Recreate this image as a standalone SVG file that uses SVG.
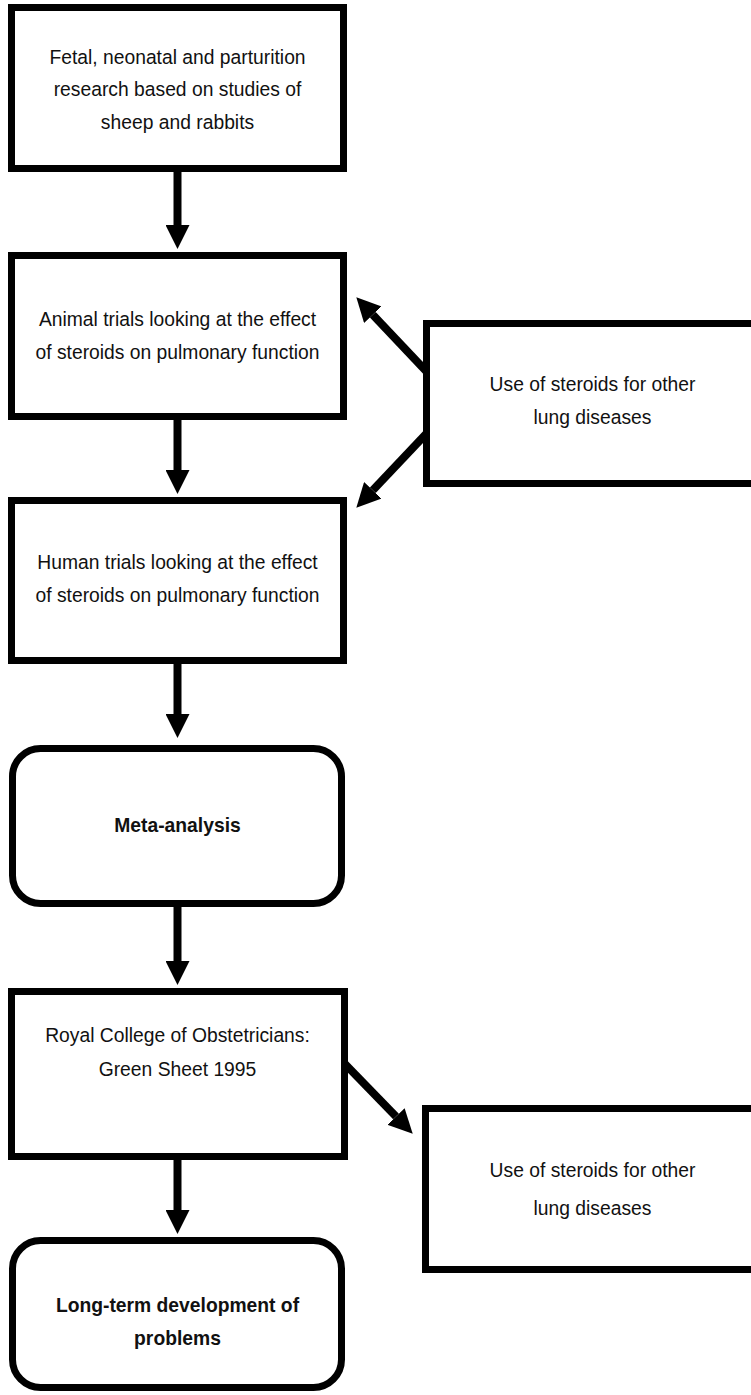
<svg xmlns="http://www.w3.org/2000/svg" width="751" height="1395" viewBox="0 0 751 1395">
<style>
.box{fill:#fff;stroke:#000;stroke-width:7}
.t{font-family:"Liberation Sans",Arial,sans-serif;font-size:19.3px;fill:#111;text-anchor:middle}
.b{font-weight:bold}
.c{stroke:#000;stroke-width:8;fill:none}
</style>
<defs>
<marker id="ah" markerUnits="userSpaceOnUse" markerWidth="24" markerHeight="24" viewBox="0 0 23 23" refX="0" refY="11.5" orient="auto">
<path d="M0,0 L23,11.5 L0,23 z" fill="#000"/>
</marker>
</defs>
<rect width="751" height="1395" fill="#fff"/>
<g id="n1">
<rect class="box" x="11.5" y="7.5" width="332" height="161"/>
<text class="t" x="177.5" y="63.5">Fetal, neonatal and parturition</text>
<text class="t" x="177.5" y="96">research based on studies of</text>
<text class="t" x="177.5" y="128.5">sheep and rabbits</text>
</g>
<g id="n2">
<rect class="box" x="11.5" y="255.5" width="332" height="161"/>
<text class="t" x="177.5" y="325.5">Animal trials looking at the effect</text>
<text class="t" x="177.5" y="359">of steroids on pulmonary function</text>
</g>
<g id="n3">
<rect class="box" x="11.5" y="500.5" width="332" height="160"/>
<text class="t" x="177.5" y="568.5">Human trials looking at the effect</text>
<text class="t" x="177.5" y="602">of steroids on pulmonary function</text>
</g>
<g id="n4">
<rect class="box" x="12.5" y="748.5" width="329" height="155" rx="28"/>
<text class="t b" x="177.5" y="832">Meta-analysis</text>
</g>
<g id="n5">
<rect class="box" x="11.5" y="991.5" width="333" height="165"/>
<text class="t" x="177.5" y="1041.5">Royal College of Obstetricians:</text>
<text class="t" x="177.5" y="1075.5">Green Sheet 1995</text>
</g>
<g id="n6">
<rect class="box" x="12.5" y="1240.5" width="329" height="147" rx="28"/>
<text class="t b" x="177.5" y="1311.5">Long-term development of</text>
<text class="t b" x="177.5" y="1345">problems</text>
</g>
<g id="n7">
<rect class="box" x="426.5" y="323.5" width="340" height="160"/>
<text class="t" x="592.5" y="390.5">Use of steroids for other</text>
<text class="t" x="592.5" y="423.5">lung diseases</text>
</g>
<g id="n8">
<rect class="box" x="425.5" y="1108.5" width="340" height="161"/>
<text class="t" x="592.5" y="1177">Use of steroids for other</text>
<text class="t" x="592.5" y="1214.5">lung diseases</text>
</g>
<g id="connectors">
<line class="c" x1="177.5" y1="170" x2="177.5" y2="225" marker-end="url(#ah)"/>
<line class="c" x1="177.5" y1="418" x2="177.5" y2="470" marker-end="url(#ah)"/>
<line class="c" x1="177.5" y1="662" x2="177.5" y2="714" marker-end="url(#ah)"/>
<line class="c" x1="177.5" y1="905" x2="177.5" y2="961" marker-end="url(#ah)"/>
<line class="c" x1="177.5" y1="1158" x2="177.5" y2="1210" marker-end="url(#ah)"/>
<line class="c" x1="426" y1="371" x2="372.8" y2="314.7" marker-end="url(#ah)"/>
<line class="c" x1="426" y1="434" x2="372.8" y2="490.3" marker-end="url(#ah)"/>
<line class="c" x1="345" y1="1064" x2="396" y2="1116.5" marker-end="url(#ah)"/>
</g>
</svg>
